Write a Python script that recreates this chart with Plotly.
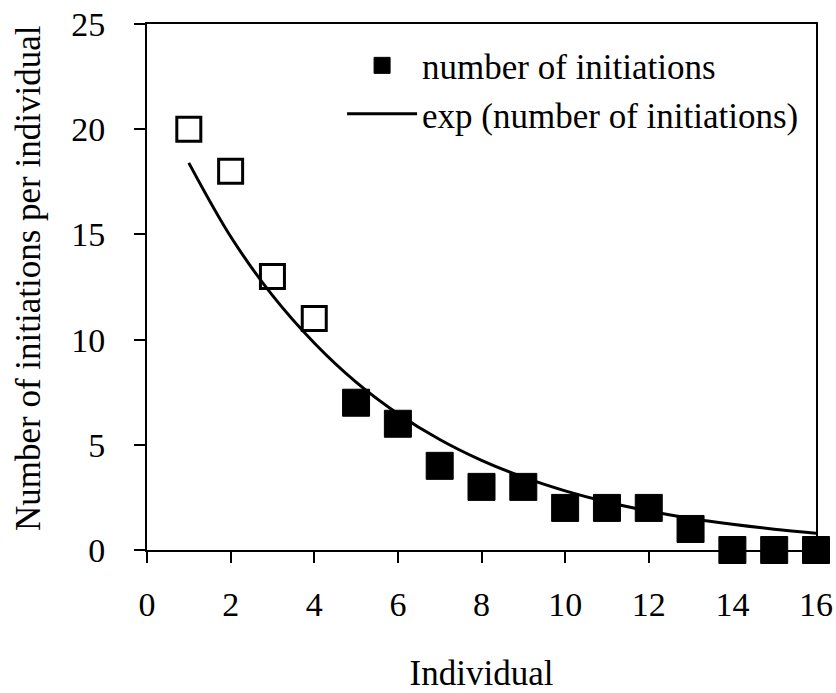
import plotly.graph_objects as go

individuals = list(range(1, 17))
initiations = [20, 18, 13, 11, 7, 6, 4, 3, 3, 2, 2, 2, 1, 0, 0, 0]
open_count = 4  # first four individuals drawn as open squares

# exponential trend line values
trend_values = [18.4, 14.9, 12.1, 9.84, 7.98, 6.48, 5.25, 4.26, 3.46, 2.81,
                2.28, 1.85, 1.50, 1.22, 0.99, 0.80]

x_ticks = [0, 2, 4, 6, 8, 10, 12, 14, 16]
y_ticks = [0, 5, 10, 15, 20, 25]

x_title = "Individual"
y_title = "Number of initiations per individual"

FONT = "Liberation Serif"

fig = go.Figure()
fig.add_trace(go.Scatter(
    x=individuals[:open_count], y=initiations[:open_count], mode="markers",
    marker=dict(symbol="square", size=24, color="white",
                line=dict(color="black", width=3)),
    showlegend=False, cliponaxis=False))
fig.add_trace(go.Scatter(
    x=individuals[open_count:], y=initiations[open_count:], mode="markers",
    name="number of initiations",
    marker=dict(symbol="square", size=27, color="black",
                line=dict(color="black", width=1)),
    cliponaxis=False))
fig.add_trace(go.Scatter(
    x=individuals, y=trend_values, mode="lines",
    name="exp (number of initiations)",
    line=dict(color="black", width=3, shape="spline"),
    cliponaxis=False))

fig.update_layout(
    width=836, height=693,
    margin=dict(l=147, r=20, t=24, b=143, autoexpand=False),
    paper_bgcolor="white", plot_bgcolor="white",
    font=dict(family=FONT, size=34, color="black"),
    legend=dict(x=0.2916, y=0.977, xanchor="left", yanchor="top",
                bgcolor="rgba(0,0,0,0)", font=dict(size=35),
                itemwidth=70, tracegroupgap=0),
    xaxis=dict(range=[0, 16], tickvals=x_ticks, showline=True, linecolor="black",
               linewidth=2, mirror=True, ticks="outside", ticklen=11,
               tickwidth=2, tickcolor="black", showgrid=False, zeroline=False,
               ticklabelstandoff=12, automargin=False, ticklabeloverflow="allow",
               title=dict(text=x_title, font=dict(size=35), standoff=41)),
    yaxis=dict(range=[0, 25], tickvals=y_ticks, showline=True, linecolor="black",
               linewidth=2, mirror=True, ticks="outside", ticklen=11,
               tickwidth=2, tickcolor="black", showgrid=False, zeroline=False,
               ticklabelstandoff=22, automargin=False, ticklabeloverflow="allow"),
    annotations=[dict(text=y_title, textangle=-90, xref="paper", yref="paper",
                      x=-0.1779, y=0.517, xanchor="center", yanchor="middle",
                      showarrow=False, font=dict(size=35))],
)

fig.write_html("out.html",
               config={"displayModeBar": False},
               post_script="document.body.style.margin='0';"
                           "document.body.style.overflow='hidden';")
